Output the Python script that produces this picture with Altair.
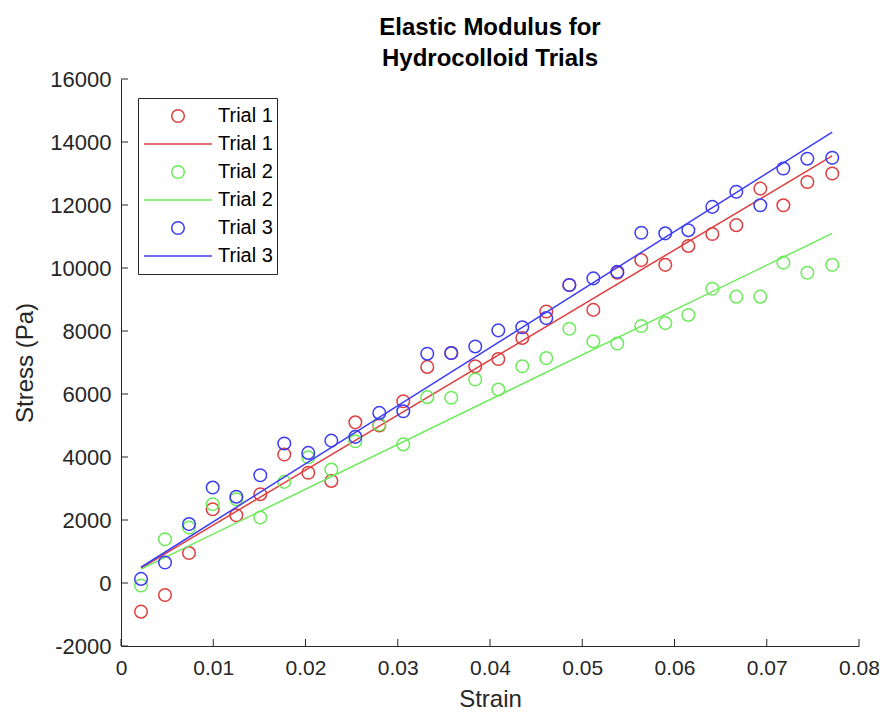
import altair as alt
import pandas as pd

# ---- data ----
strain = [0.00217, 0.00477, 0.00737, 0.00994, 0.0125, 0.0151, 0.0177, 0.0203, 0.0228, 0.0254,
          0.0280, 0.0306, 0.0332, 0.0358, 0.0384, 0.0409, 0.0435, 0.0461, 0.0486, 0.0512,
          0.0538, 0.0564, 0.0590, 0.0615, 0.0641, 0.0667, 0.0693, 0.0718, 0.0744, 0.0771]

trial1 = [-910, -380, 950, 2340, 2150, 2820, 4080, 3500, 3240, 5100,
          5000, 5770, 6860, 7300, 6880, 7110, 7780, 8620, 9460, 8670,
          9850, 10250, 10100, 10700, 11080, 11360, 12520, 11990, 12730, 13000]

trial2 = [-80, 1390, 1760, 2500, 2660, 2080, 3210, 3990, 3600, 4500,
          5030, 4400, 5900, 5880, 6460, 6140, 6880, 7140, 8070, 7670,
          7600, 8160, 8250, 8510, 9340, 9090, 9090, 10170, 9850, 10100]

trial3 = [130, 650, 1870, 3030, 2740, 3420, 4430, 4130, 4520, 4640,
          5400, 5450, 7280, 7300, 7510, 8020, 8120, 8410, 9460, 9670,
          9880, 11120, 11100, 11200, 11940, 12420, 11990, 13160, 13470, 13500]

fit_strain = [0.00217, 0.0771]
fit1 = [470, 13560]
fit2 = [440, 11100]
fit3 = [500, 14310]

x_ticks = [0, 0.01, 0.02, 0.03, 0.04, 0.05, 0.06, 0.07, 0.08]
y_ticks = [-2000, 0, 2000, 4000, 6000, 8000, 10000, 12000, 14000, 16000]

series = ["Trial 1 data", "Trial 1 fit", "Trial 2 data", "Trial 2 fit", "Trial 3 data", "Trial 3 fit"]
RED, GREEN, BLUE = "#DE3E3E", "#6CEB5A", "#3C3CF5"
AX = "#262626"
FONT = "Liberation Sans"

# symbols share one size (68 px wide): a small circle path and a full-width line
SYM_SIZE = 4624
CIRCLE = "M0.185,0A0.185,0.185,0,1,1,-0.185,0A0.185,0.185,0,1,1,0.185,0Z"
LINE = "M-1,0H1"

color_scale = alt.Scale(domain=series, range=[RED, RED, GREEN, GREEN, BLUE, BLUE])
shape_scale = alt.Scale(domain=series, range=[CIRCLE, LINE] * 3)

xs = alt.Scale(domain=[0, 0.08], nice=False, zero=False)
ys = alt.Scale(domain=[-2000, 16000], nice=False, zero=False)

x_axis = alt.Axis(values=x_ticks, labelExpr="'' + datum.value", ticks=False, grid=False,
                  labelFlush=False, labelOverlap=False,
                  domainColor=AX, labelColor=AX, labelFont=FONT, labelFontSize=21,
                  labelPadding=11, title="Strain", titleFont=FONT, titleFontSize=24,
                  titleFontWeight="normal", titleColor=AX, titlePadding=9)
y_axis = alt.Axis(values=y_ticks, labelExpr="'' + datum.value", ticks=False, grid=False,
                  labelFlush=False, labelOverlap=False,
                  domainColor=AX, labelColor=AX, labelFont=FONT, labelFontSize=22,
                  labelPadding=10, title="Stress (Pa)", titleFont=FONT, titleFontSize=24,
                  titleFontWeight="normal", titleColor=AX, titlePadding=12)

legend = alt.Legend(title=None, orient="none", legendX=17, legendY=19, padding=4,
                    strokeColor=AX, fillColor="white", clipHeight=28, rowPadding=0,
                    symbolOffset=1, labelOffset=5, labelFont=FONT, labelFontSize=20,
                    labelColor="black", columns=1, symbolStrokeWidth=1.5,
                    symbolSize=SYM_SIZE, labelExpr="slice(datum.label, 0, 7)")

X = lambda f: alt.X(f, scale=xs, axis=x_axis)
Y = lambda f: alt.Y(f, scale=ys, axis=y_axis)

layers = []
for name, vals, fvals in [("Trial 1", trial1, fit1), ("Trial 2", trial2, fit2), ("Trial 3", trial3, fit3)]:
    pts = pd.DataFrame({"strain": strain, "stress": vals, "series": name + " data"})
    fit = pd.DataFrame({"strain": fit_strain, "stress": fvals, "series": name + " fit"})
    p = alt.Chart(pts).mark_point(filled=False, strokeWidth=1.5, opacity=1, size=SYM_SIZE).encode(
        x=X("strain:Q"), y=Y("stress:Q"),
        color=alt.Color("series:N", scale=color_scale, legend=legend),
        shape=alt.Shape("series:N", scale=shape_scale, legend=legend),
    )
    l = alt.Chart(fit).mark_line(strokeWidth=1.5).encode(
        x=X("strain:Q"), y=Y("stress:Q"),
        color=alt.Color("series:N", scale=color_scale, legend=None),
    )
    layers += [p, l]

xt = alt.Chart(pd.DataFrame({"t": x_ticks})).mark_rule(color=AX, strokeWidth=1).encode(
    x=X("t:Q"), y=alt.value(567), y2=alt.value(560))
yt = alt.Chart(pd.DataFrame({"t": y_ticks})).mark_rule(color=AX, strokeWidth=1).encode(
    y=Y("t:Q"), x=alt.value(0), x2=alt.value(7))
layers += [xt, yt]

chart = alt.layer(*layers).properties(
    width=738, height=567,
    title=alt.Title(["Elastic Modulus for", "Hydrocolloid Trials"], font=FONT, fontSize=24,
                    fontWeight="bold", color="black", anchor="middle", frame="group",
                    offset=8, dy=11, lineHeight=31),
    autosize=alt.AutoSizeParams(type="none"),
    padding={"left": 113, "top": 71, "right": 20, "bottom": 65},
).configure_view(stroke=None)

chart.save("out.html", embed_options={"renderer": "svg", "actions": False})
